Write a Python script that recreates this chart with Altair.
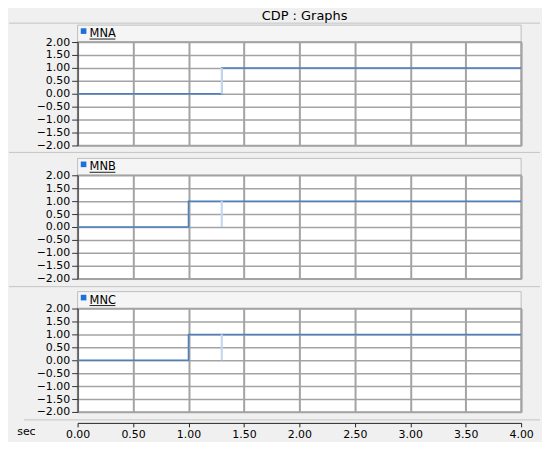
import altair as alt
import pandas as pd

# ---- data ----
series_names = ["MNA", "MNB", "MNC"]
mna_t = [0.0, 1.3, 4.0]
mna_v = [0.0, 1.0, 1.0]
mnb_t = [0.0, 1.0, 4.0]
mnb_v = [0.0, 1.0, 1.0]
mnc_t = [0.0, 1.0, 4.0]
mnc_v = [0.0, 1.0, 1.0]
cursor_t = [1.3]
cursor_lo = [0.0]
cursor_hi = [1.0]
x_ticks = [0.0, 0.5, 1.0, 1.5, 2.0, 2.5, 3.0, 3.5, 4.0]
y_ticks = [-2.0, -1.5, -1.0, -0.5, 0.0, 0.5, 1.0, 1.5, 2.0]
x_title = "sec"
chart_title = "CDP : Graphs"

W, H_PLOT, H_BOX, GAP = 446, 104, 17, 13
FONT = "DejaVu Sans"
LINE = "#4a7fc0"
GRID = "#a3a3a3"
DARK = "#333333"


def header(name, gap, sep_y):
    df = pd.DataFrame({"name": [name]})
    base = alt.Chart(df)
    top = gap
    sep = base.mark_rule(color="#c4c4c4", strokeWidth=1).encode(
        x=alt.value(-69), x2=alt.value(465), y=alt.value(top + sep_y))
    box = base.mark_rect(fill="#f5f5f5", stroke="#bdbdbd", strokeWidth=1).encode(
        x=alt.value(0), x2=alt.value(W), y=alt.value(top), y2=alt.value(top + H_BOX))
    sq = base.mark_square(color="#1f6fd8", size=32, opacity=1).encode(
        x=alt.value(6), y=alt.value(top + 6))
    txt = base.mark_text(align="left", baseline="alphabetic", font=FONT,
                         fontSize=11.5, color="black").encode(
        x=alt.value(12), y=alt.value(top + 12), text="name:N")
    ul = base.mark_rule(color="#222222", strokeWidth=1).encode(
        x=alt.value(12), x2=alt.value(38), y=alt.value(top + 14))
    return alt.layer(sep, box, sq, txt, ul).properties(
        width=W, height=gap + H_BOX,
        view=alt.ViewBackground(fill=None, stroke=None))


def plot(ts, vs, last):
    df = pd.DataFrame({"t": ts, "v": vs})
    cdf = pd.DataFrame({"t": cursor_t, "y0": cursor_lo, "y1": cursor_hi})
    xscale = alt.Scale(domain=[0, 4], nice=False, zero=False)
    yscale = alt.Scale(domain=[-2, 2], nice=False, zero=False)
    if last:
        xaxis = alt.Axis(values=x_ticks, format=".2f", grid=True, gridColor=GRID,
                         gridWidth=2, offset=11, tickSize=4, tickColor="#222222",
                         domainColor="#222222", labelFont=FONT, labelFontSize=11,
                         labelColor="black", labelFlush=False, labelOverlap=False,
                         labelPadding=2, title=x_title, titleFont=FONT,
                         titleFontSize=11, titleFontWeight="normal", titleX=-52,
                         titleY=9, titleAlign="center", titleBaseline="middle",
                         titleColor="black")
    else:
        xaxis = alt.Axis(values=x_ticks, grid=True, gridColor=GRID, gridWidth=2,
                         labels=False, ticks=False, domain=False, title=None)
    yaxis = alt.Axis(values=y_ticks, format=".2f", grid=True, gridColor=GRID,
                     gridWidth=1.5, tickSize=6, tickColor=DARK, domainColor=DARK,
                     labelFont=FONT, labelFontSize=11, labelColor="black",
                     labelFlush=False, labelOverlap=False, labelPadding=2,
                     minExtent=69, maxExtent=69, title=None)
    line = alt.Chart(df).mark_line(interpolate="step-after", color=LINE,
                                   strokeWidth=1.5).encode(
        x=alt.X("t:Q", scale=xscale, axis=xaxis),
        y=alt.Y("v:Q", scale=yscale, axis=yaxis))
    cur = alt.Chart(cdf).mark_rule(color="#c3d8ef", strokeWidth=2.2).encode(
        x=alt.X("t:Q", scale=xscale, axis=xaxis),
        y=alt.Y("y0:Q", scale=yscale, axis=yaxis),
        y2="y1:Q")
    layers = [line, cur]
    if last:
        sep = alt.Chart(cdf).mark_rule(color="#c4c4c4", strokeWidth=1).encode(
            x=alt.value(-54), x2=alt.value(465), y=alt.value(H_PLOT + 8))
        layers.append(sep)
    return alt.layer(*layers).properties(
        width=W, height=H_PLOT,
        view=alt.ViewBackground(fill="white", stroke=GRID, strokeWidth=1.5))


data = [(mna_t, mna_v), (mnb_t, mnb_v), (mnc_t, mnc_v)]
gaps = [0, GAP, GAP]
sep_ys = [-2, -6, -5]
panels = []
for i, (name, (ts, vs)) in enumerate(zip(series_names, data)):
    panels.append(header(name, gaps[i], sep_ys[i]))
    panels.append(plot(ts, vs, i == 2))

chart = alt.vconcat(*panels, spacing=0, bounds="flush").properties(
    title=alt.TitleParams(chart_title, font=FONT, fontSize=13, fontWeight="normal",
                          color="black", anchor="middle", dx=30, offset=0),
    padding={"left": 0, "top": 0, "right": 0, "bottom": 0},
    background="#f0f0f0",
)

chart.save("out.html", embed_options={"renderer": "svg", "actions": False})
